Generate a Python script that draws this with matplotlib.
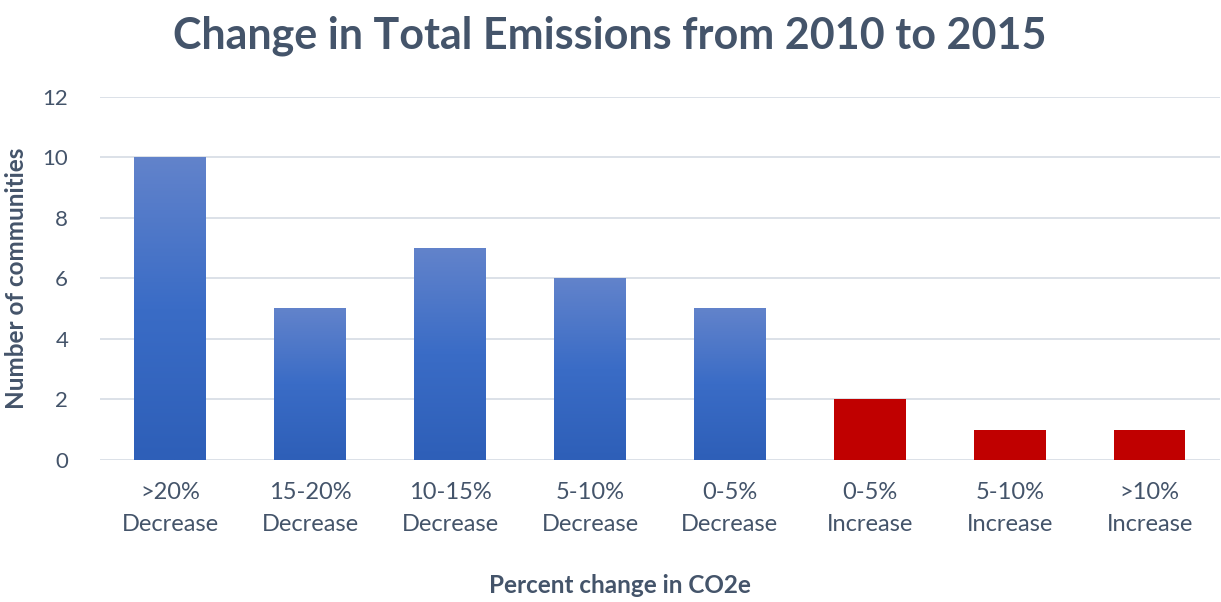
import numpy as np
import matplotlib.pyplot as plt
from matplotlib.colors import LinearSegmentedColormap

categories = [">20%\nDecrease", "15-20%\nDecrease", "10-15%\nDecrease", "5-10%\nDecrease",
              "0-5%\nDecrease", "0-5%\nIncrease", "5-10%\nIncrease", ">10%\nIncrease"]
communities = [10, 5, 7, 6, 5, 2, 1, 1]
is_increase = [False, False, False, False, False, True, True, True]

text_color = "#44546A"
plt.rcParams["font.family"] = ["Lato", "DejaVu Sans"]

fig = plt.figure(figsize=(12.21, 6.02), dpi=100)
ax = fig.add_axes([0.082, 0.236, 0.917, 0.603])

x = np.arange(len(categories))
width = 0.51
bars = ax.bar(x, communities, width=width, color="none", zorder=3)

# blue bars get a vertical gradient, red ones stay flat
blue_grad = LinearSegmentedColormap.from_list("bg", ["#2E5FB8", "#3A6CC6", "#6283CB"])
grad = np.linspace(0, 1, 256).reshape(-1, 1)
for b, inc in zip(bars, is_increase):
    x0, y0 = b.get_x(), b.get_y()
    w, h = b.get_width(), b.get_height()
    if inc:
        b.set_facecolor("#C00000")
    else:
        ax.imshow(grad, cmap=blue_grad, origin="lower", aspect="auto",
                  extent=[x0, x0 + w, y0, y0 + h], zorder=3)

ax.set_xlim(-0.5, len(categories) - 0.5)
ax.set_ylim(0, 12)
ax.set_yticks(range(0, 13, 2))
ax.set_xticks(x)
ax.set_xticklabels(categories, fontsize=17, color=text_color, linespacing=1.65)
ax.tick_params(axis="y", labelsize=16, labelcolor=text_color, length=0, pad=23)
ax.tick_params(axis="x", length=0, pad=16)
ax.grid(axis="y", color="#D9DEE6", linewidth=1.3, zorder=0)
for s in ax.spines.values():
    s.set_visible(False)

ax.set_ylabel("Number of communities", fontsize=17.5, fontweight="bold", color=text_color)
ax.yaxis.set_label_coords(-0.064, 0.5)
ax.set_xlabel("Percent change in CO2e", fontsize=17.5, fontweight="bold", color=text_color)
ax.xaxis.set_label_coords(0.464, -0.315)

fig.text(0.499, 0.94, "Change in Total Emissions from 2010 to 2015", ha="center", va="center",
         fontsize=31, fontweight="bold", color=text_color)

fig.savefig("out.png", dpi=100)
